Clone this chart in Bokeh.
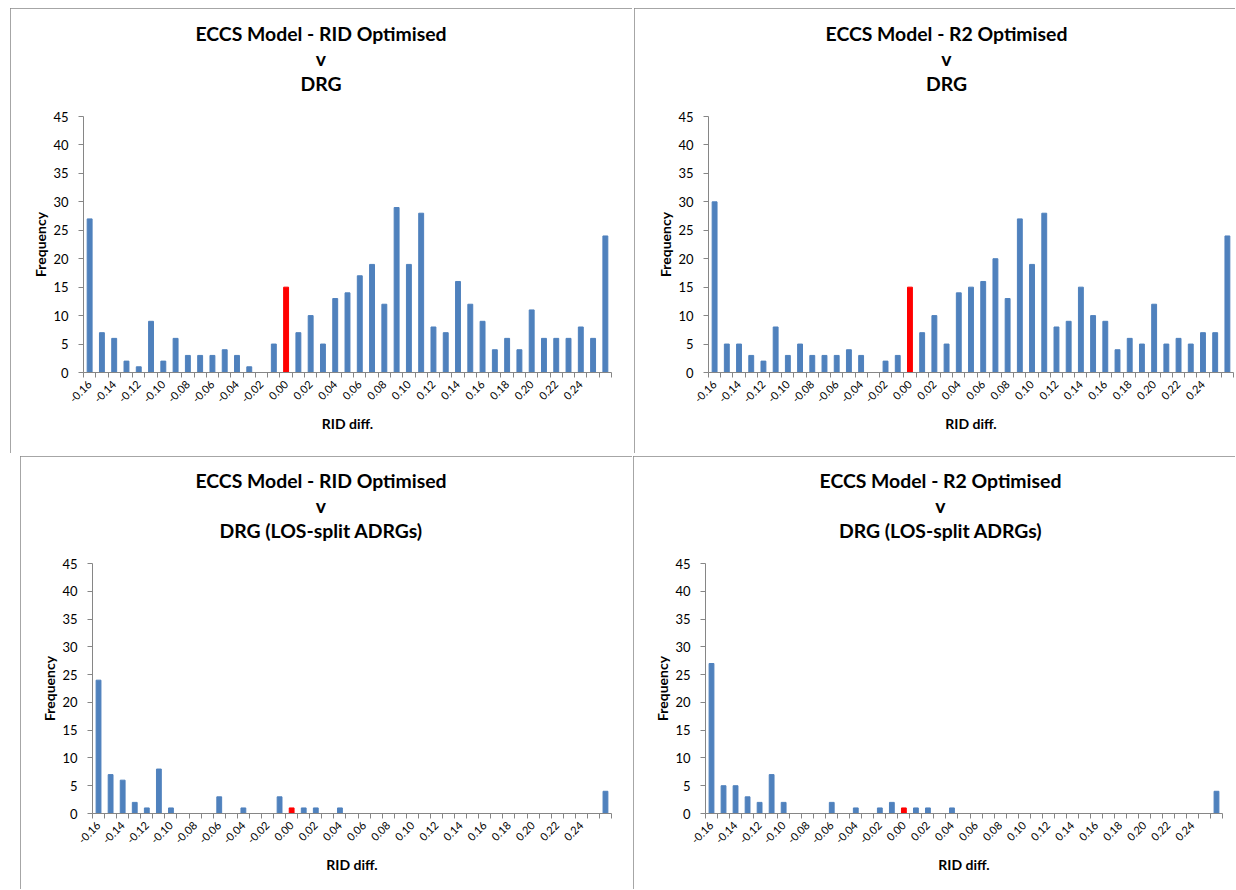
from bokeh.plotting import figure
from bokeh.models import FixedTicker, Title, Spacer, ColumnDataSource
from bokeh.layouts import row, column
from bokeh.embed import file_html
from bokeh.resources import INLINE

# ---------------- data ----------------
categories = ["-0.16", "-0.15", "-0.14", "-0.13", "-0.12", "-0.11", "-0.10", "-0.09",
              "-0.08", "-0.07", "-0.06", "-0.05", "-0.04", "-0.03", "-0.02", "-0.01",
              "0.00", "0.01", "0.02", "0.03", "0.04", "0.05", "0.06", "0.07", "0.08",
              "0.09", "0.10", "0.11", "0.12", "0.13", "0.14", "0.15", "0.16", "0.17",
              "0.18", "0.19", "0.20", "0.21", "0.22", "0.23", "0.24", "0.25", "More"]
tick_labels = ["-0.16", "-0.14", "-0.12", "-0.10", "-0.08", "-0.06", "-0.04", "-0.02",
               "0.00", "0.02", "0.04", "0.06", "0.08", "0.10", "0.12", "0.14", "0.16",
               "0.18", "0.20", "0.22", "0.24"]
highlight = "0.00"

freq_rid_drg = [27, 7, 6, 2, 1, 9, 2, 6, 3, 3, 3, 4, 3, 1, 0, 5,
                15,
                7, 10, 5, 13, 14, 17, 19, 12, 29, 19, 28, 8, 7, 16, 12, 9, 4, 6, 4, 11, 6, 6, 6, 8, 6,
                24]
freq_r2_drg = [30, 5, 5, 3, 2, 8, 3, 5, 3, 3, 3, 4, 3, 0, 2, 3,
               15,
               7, 10, 5, 14, 15, 16, 20, 13, 27, 19, 28, 8, 9, 15, 10, 9, 4, 6, 5, 12, 5, 6, 5, 7, 7,
               24]
freq_rid_los = [24, 7, 6, 2, 1, 8, 1, 0, 0, 0, 3, 0, 1, 0, 0, 3,
                1,
                1, 1, 0, 1, 0, 0, 0, 0, 0, 0, 0, 0, 0, 0, 0, 0, 0, 0, 0, 0, 0, 0, 0, 0, 0,
                4]
freq_r2_los = [27, 5, 5, 3, 2, 7, 2, 0, 0, 0, 2, 0, 1, 0, 1, 2,
               1,
               1, 1, 0, 1, 0, 0, 0, 0, 0, 0, 0, 0, 0, 0, 0, 0, 0, 0, 0, 0, 0, 0, 0, 0, 0,
               4]

title_rid_drg = ["ECCS Model - RID Optimised", "v", "DRG"]
title_r2_drg = ["ECCS Model - R2 Optimised", "v", "DRG"]
title_rid_los = ["ECCS Model - RID Optimised", "v", "DRG (LOS-split ADRGs)"]
title_r2_los = ["ECCS Model - R2 Optimised", "v", "DRG (LOS-split ADRGs)"]

y_ticks = [0, 5, 10, 15, 20, 25, 30, 35, 40, 45]
x_label = "RID diff."
y_label = "Frequency"

BLUE = "#4F81BD"
RED = "#FF0000"
AXIS = "#868686"
FONT = "Lato"
TITLE_SIZE = 19.4
# approximate rendered widths of title texts at 17px (used to centre them over the panel)
W17 = {"ECCS Model - RID Optimised": 220, "ECCS Model - R2 Optimised": 212, "v": 9,
       "DRG": 36, "DRG (LOS-split ADRGs)": 178}


def make_panel(values, title_lines, width, height, ml, mr, mt, mb, title_center, clip):
    n = len(categories)
    xs = list(range(n))
    colors = [RED if c == highlight else BLUE for c in categories]
    src = ColumnDataSource(dict(x=xs, top=values, color=colors, cat=categories))
    p = figure(width=width, height=height, output_backend="svg", toolbar_location=None,
               x_range=(-0.5, n - 0.5), y_range=(0, 45),
               min_border_left=ml, min_border_right=mr, min_border_top=mt, min_border_bottom=mb)
    p.vbar(x="x", top="top", width=0.4, fill_color="color", line_color="color", source=src)
    p.xgrid.visible = False
    p.ygrid.visible = False
    p.outline_line_color = None
    p.background_fill_color = "white"
    p.border_fill_color = "white"

    # x axis: labels every other category, tick marks between categories
    major = [categories.index(t) for t in tick_labels]
    minor = [i - 0.5 for i in range(n + 1)]
    xa = p.xaxis[0]
    xa.ticker = FixedTicker(ticks=major, minor_ticks=minor)
    xa.major_label_overrides = {i: categories[i] for i in major}
    xa.major_label_orientation = 0.785398
    xa.major_tick_out = 0
    xa.major_tick_in = 0
    xa.minor_tick_out = 5
    xa.minor_tick_in = 0
    xa.minor_tick_line_color = AXIS
    xa.axis_line_color = AXIS
    xa.major_label_text_font = FONT
    xa.major_label_text_font_size = "11px"
    xa.major_label_text_color = "#000000"
    xa.major_label_standoff = 5
    xa.axis_label = x_label
    xa.axis_label_text_font = FONT
    xa.axis_label_text_font_style = "bold"
    xa.axis_label_text_font_size = "14px"
    xa.axis_label_text_color = "#000000"
    xa.axis_label_standoff = 6

    ya = p.yaxis[0]
    ya.ticker = FixedTicker(ticks=y_ticks)
    ya.major_tick_out = 5
    ya.major_tick_in = 0
    ya.minor_tick_out = 0
    ya.minor_tick_in = 0
    ya.major_tick_line_color = AXIS
    ya.axis_line_color = AXIS
    ya.major_label_text_font = FONT
    ya.major_label_text_font_size = "13px"
    ya.major_label_text_color = "#000000"
    ya.major_label_standoff = 10
    ya.axis_label = y_label
    ya.axis_label_text_font = FONT
    ya.axis_label_text_font_style = "bold"
    ya.axis_label_text_font_size = "14px"
    ya.axis_label_text_color = "#000000"
    ya.axis_label_standoff = 1

    # gap between frame and the title block
    p.add_layout(Title(text="\u00a0", text_font_size="10px", standoff=9), "above")
    # three title lines, stacked upward from the plot frame, centred on the panel
    for line in reversed(title_lines):
        w = W17[line] * TITLE_SIZE / 17.0
        p.add_layout(Title(text=line, align="left", offset=title_center - w / 2.0, standoff=0,
                           text_font=FONT, text_font_style="bold",
                           text_font_size=f"{TITLE_SIZE}px", text_color="#000000"), "above")
    st = {"outline": "1px solid #888888", "outline-offset": "-1px"}
    if clip:
        st["clip-path"] = clip
    p.styles = st
    return p


p1 = make_panel(freq_rid_drg, title_rid_drg, 622, 445, 73, 21, 108, 80, 237.5, None)
p2 = make_panel(freq_r2_drg, title_r2_drg, 602, 445, 74, 3, 107, 81, 238, "inset(0px 1px 0px 0px)")
p3 = make_panel(freq_rid_los, title_rid_los, 612, 434, 72, 21, 107, 76, 228.5, "inset(0px 0px 1px 0px)")
p4 = make_panel(freq_r2_los, title_r2_los, 603, 434, 72, 14, 105, 77, 235, "inset(0px 1px 1px 0px)")

top = row(Spacer(width=10), p1, Spacer(width=2), p2, spacing=0)
bottom = row(Spacer(width=20), p3, Spacer(width=1), p4, spacing=0)
layout = column(Spacer(height=8), top, Spacer(height=3), bottom, spacing=0)

open("out.html", "w").write(file_html(layout, INLINE))
